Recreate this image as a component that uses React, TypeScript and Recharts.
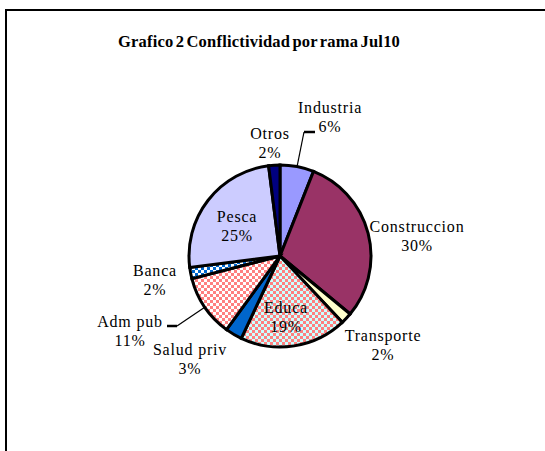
import React from 'react';
import { PieChart, Pie, Cell } from 'recharts';

const categories = ['Industria', 'Construccion', 'Transporte', 'Educa', 'Salud priv', 'Adm pub', 'Banca', 'Pesca', 'Otros'];
const shares = [6, 30, 2, 19, 3, 11, 2, 25, 2];
const title = 'Grafico 2 Conflictividad por rama Jul10';

const fills = ['#9999FF', '#993366', '#FFFFCC', 'url(#chkEduca)', '#0066CC', 'url(#chkAdm)', 'url(#chkBanca)', '#CCCCFF', '#000080'];

// label layout (offset of first text line centre from pie centre)
const labelOffsets = [[50, -149], [137, -30], [103, 79], [6, 51], [-90, 93], [-150, 65], [-125, 14], [-43, -40], [-10, -123]];
const leaderElbows: Record<number, number[][]> = {
  0: [[24, -124], [35, -124]],
  5: [[-103, 70], [-113, 70]],
};

const total = shares.reduce((a, b) => a + b, 0);
const data = categories.map((name, i) => ({ name, value: shares[i] }));
const RAD = Math.PI / 180;
const FONT = "'Liberation Serif', 'Times New Roman', Times, 'DejaVu Serif', serif";

const renderLabel = (props: any) => {
  const { cx, cy, midAngle, outerRadius, index } = props;
  const [dx, dy] = labelOffsets[index];
  const x = cx + dx;
  const y = cy + dy;
  const pct = `${Math.round((shares[index] / total) * 100)}%`;
  const elbow = leaderElbows[index];
  let line = null;
  if (elbow) {
    const sx = cx + outerRadius * Math.cos(-midAngle * RAD);
    const sy = cy + outerRadius * Math.sin(-midAngle * RAD);
    line = (
      <g>
        <line x1={sx} y1={sy} x2={cx + elbow[0][0]} y2={cy + elbow[0][1]} stroke="#000" strokeWidth={1.2} />
        <line x1={cx + elbow[0][0]} y1={cy + elbow[0][1]} x2={cx + elbow[1][0]} y2={cy + elbow[1][1]} stroke="#000" strokeWidth={2.5} />
      </g>
    );
  }
  return (
    <g key={`lbl-${index}`}>
      {line}
      <text x={x} y={y} textAnchor="middle" dominantBaseline="central" style={{ fontFamily: FONT }} fontSize={16} letterSpacing={0.8} fill="#000">
        <tspan x={x} y={y}>{categories[index]}</tspan>
        <tspan x={x} y={y + 19}>{pct}</tspan>
      </text>
    </g>
  );
};

export default function App() {
  return (
    <div style={{ position: 'absolute', left: 0, top: 0, width: 545, height: 451, overflow: 'hidden', background: '#fff' }}>
      <div style={{ position: 'absolute', left: 5, top: 9, width: 700, height: 700, borderTop: '2px solid #000', borderLeft: '2px solid #000' }} />
      <div style={{ position: 'absolute', left: 0, top: 32, width: 518, textAlign: 'center', fontFamily: FONT, fontWeight: 'bold', fontSize: 16.5, lineHeight: '20px', wordSpacing: -2, letterSpacing: 0.2, color: '#000' }}>
        {title}
      </div>
      <div style={{ position: 'absolute', left: 0, top: 0 }}>
        <PieChart width={545} height={451} margin={{ top: 0, right: 0, bottom: 0, left: 0 }}>
          <defs>
            <pattern id="chkEduca" width={6} height={6} patternUnits="userSpaceOnUse">
              <rect width={6} height={6} fill="#CCFFFF" />
              <rect width={3} height={3} fill="#FF8080" />
              <rect x={3} y={3} width={3} height={3} fill="#FF8080" />
            </pattern>
            <pattern id="chkAdm" width={6} height={6} patternUnits="userSpaceOnUse">
              <rect width={6} height={6} fill="#FFFFFF" />
              <rect width={3} height={3} fill="#FF8080" />
              <rect x={3} y={3} width={3} height={3} fill="#FF8080" />
            </pattern>
            <pattern id="chkBanca" width={6} height={6} patternUnits="userSpaceOnUse">
              <rect width={6} height={6} fill="#FFFFFF" />
              <rect width={3} height={3} fill="#0066CC" />
              <rect x={3} y={3} width={3} height={3} fill="#0066CC" />
            </pattern>
          </defs>
          <Pie
            data={data}
            dataKey="value"
            nameKey="name"
            cx={280}
            cy={256}
            outerRadius={91}
            startAngle={90}
            endAngle={-270}
            stroke="#000"
            strokeWidth={3}
            label={renderLabel}
            labelLine={false}
            isAnimationActive={false}
          >
            {data.map((d, i) => (
              <Cell key={d.name} fill={fills[i]} stroke="#000" strokeWidth={3} />
            ))}
          </Pie>
        </PieChart>
      </div>
    </div>
  );
}
